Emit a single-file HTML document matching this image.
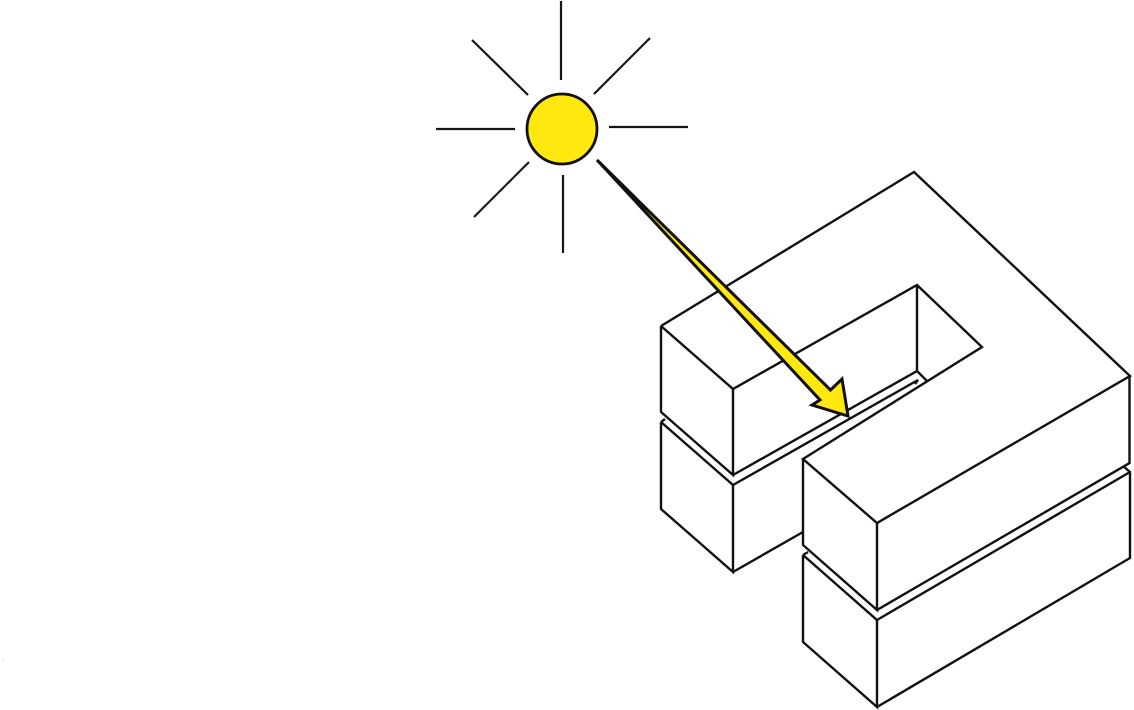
<!DOCTYPE html>
<html>
<head>
<meta charset="utf-8">
<style>
html,body{margin:0;padding:0;background:#fff;width:1134px;height:710px;overflow:hidden}
svg{display:block}
</style>
</head>
<body>
<svg width="1134" height="710" viewBox="0 0 1134 710" xmlns="http://www.w3.org/2000/svg">
<g fill="none" stroke="#111" stroke-width="2.4" stroke-linejoin="miter" stroke-linecap="butt">
  <!-- top outline -->
  <path d="M661 326L914 172L1130 376L877 523L803 459L982 347L917 285L733 389L661 326"/>
  <path d="M661 326V412L733 475V389"/>
  <path d="M733 475L917 371V285"/>
  <path d="M917 371L927 381"/>
  <path d="M733 485L918 380L915 384"/>
  <!-- lower-left block -->
  <path d="M661 422V509L733 572V485L661 422"/>
  <path d="M661 422L665 419"/>
  <path d="M733 572L803 532"/>
  <!-- front block -->
  <path d="M803 459V545L877 610V523"/>
  <path d="M877 610L1129.500 463V376"/>
  <path d="M803 555L877 620L1130 472"/>
  <path d="M803 555V642L877 707V620"/>
  <path d="M877 707L1130 558V472L1123 466"/>
  <path d="M803 555L808 552"/>
</g>
<!-- sun -->
<circle cx="562" cy="129" r="35" fill="#ffe80f" stroke="#111" stroke-width="2.8"/>
<g stroke="#151515" stroke-width="2.2" fill="none">
  <path d="M561 1V80"/>
  <path d="M472 40L528 95"/>
  <path d="M650 38L594 94"/>
  <path d="M436 129H515"/>
  <path d="M609 127H688"/>
  <path d="M474 217L529 162"/>
  <path d="M563 175V253"/>
</g>
<!-- arrow -->
<path d="M597 160L830.500 390L842 379L848 416L812 405L820 400Z" fill="#ffe80f" stroke="#111" stroke-width="3" stroke-linejoin="miter" stroke-miterlimit="6"/>
<circle cx="3" cy="660" r="0.7" fill="#ccc"/>
</svg>
</body>
</html>
